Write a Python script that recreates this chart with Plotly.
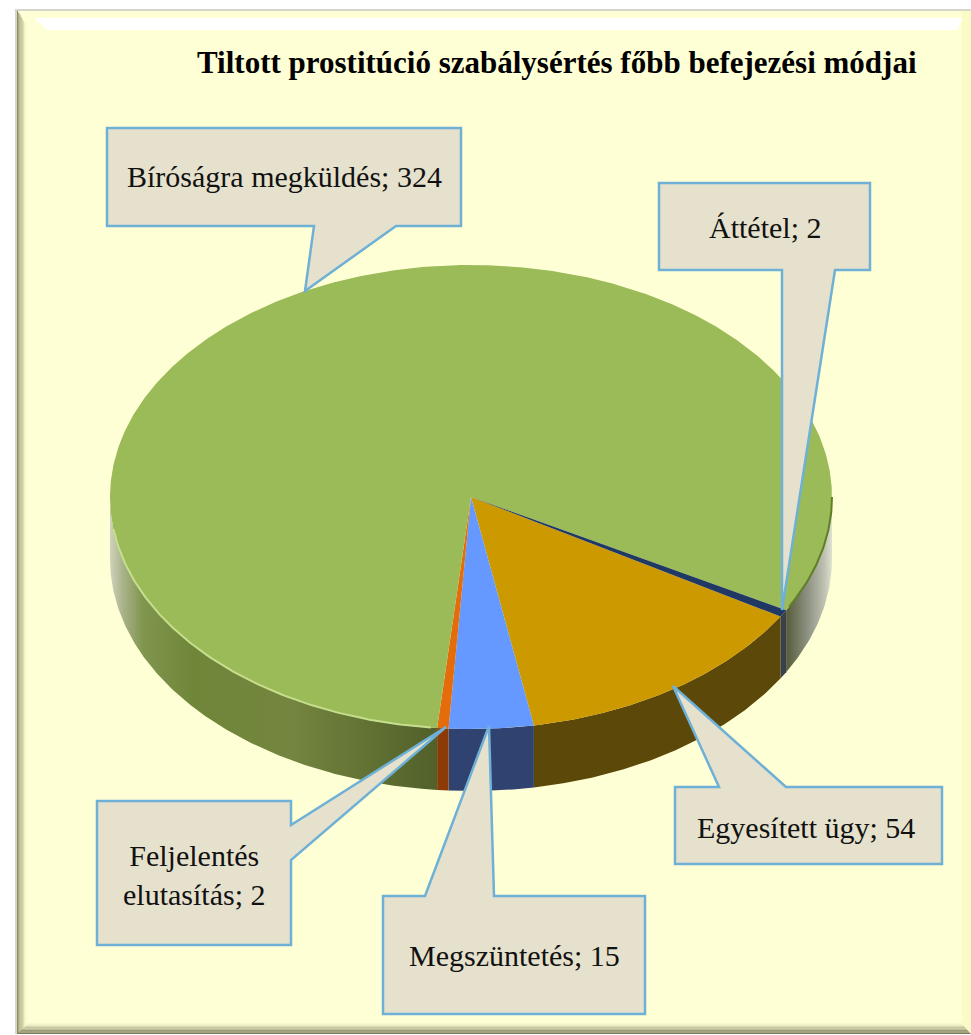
import numpy as np
import plotly.graph_objects as go

# ---- data ----
TITLE = "Tiltott prostitúció szabálysértés főbb befejezési módjai"
categories = ["Egyesített ügy", "Megszüntetés", "Feljelentés elutasítás", "Bíróságra megküldés", "Áttétel"]
values = [54, 15, 2, 324, 2]
top_colors = ["#CC9900", "#6699FF", "#E46C0A", "#9BBB59", "#1F3864"]
wall_colors = ["#5C4808", "#2F4270", "#8C3A06", None, "#3A4048"]

# ---- geometry of the tilted pie ----
W, H = 971, 1035
CX, CY, RX, RY, DEPTH = 471, 497, 361, 232, 62
START_DEG = 31.0

GREEN_WALL_LEFT = [[0, "#D0D2BC"], [0.04, "#A8B288"], [0.1, "#80954E"], [0.25, "#6F8639"], [0.55, "#74853F"], [0.8, "#5F7032"], [1, "#515F2A"]]
GREEN_WALL_RIGHT = [[0, "#474D2E"], [0.12, "#5A6040"], [0.5, "#8C9080"], [0.85, "#BFC2B2"], [1, "#E0E2D0"]]


def rim(a0, a1, dy=0.0):
    t = np.radians(np.linspace(a0, a1, max(3, int(abs(a1 - a0) * 2) + 2)))
    return CX + RX * np.cos(t), CY + dy + RY * np.sin(t)


def wall_trace(a0, a1, color=None, grad=None):
    x0, y0 = rim(a0, a1)
    x1, y1 = rim(a1, a0, DEPTH)
    kw = dict(fillcolor=color) if color else dict(fillgradient=grad)
    return go.Scatter(x=np.r_[x0, x1, x0[0]], y=np.r_[y0, y1, y0[0]], mode="lines", line=dict(width=0),
                      fill="toself", hoverinfo="skip", showlegend=False, **kw)


sweeps = np.array(values) / sum(values) * 360.0
ends = START_DEG + np.cumsum(sweeps)
starts = ends - sweeps

fig = go.Figure()

# side walls: only the front half of the disc (0..180 deg, and 360..540) is visible
for a0, a1, wc in zip(starts, ends, wall_colors):
    for lo, hi in ((0, 180), (360, 540)):
        s, e = max(a0, lo), min(a1, hi)
        if e <= s:
            continue
        if wc:
            fig.add_trace(wall_trace(s, e, color=wc))
        elif lo == 0:
            fig.add_trace(wall_trace(s, e, grad=dict(type="horizontal", colorscale=GREEN_WALL_LEFT, start=CX - RX, stop=CX - 30)))
        else:
            fig.add_trace(wall_trace(s, e, grad=dict(type="horizontal", colorscale=GREEN_WALL_RIGHT, start=CX + RX - 50, stop=CX + RX)))

# top face
for a0, a1, c, name, v in zip(starts, ends, top_colors, categories, values):
    x, y = rim(a0, a1)
    fig.add_trace(go.Scatter(x=np.r_[CX, x, CX], y=np.r_[CY, y, CY], mode="lines", line=dict(width=0, color=c),
                             fill="toself", fillcolor=c, name=f"{name}; {v}", hoverinfo="name", showlegend=False))

# rim highlights of the large slice
ib = categories.index("Bíróságra megküldés")
x, y = rim(starts[ib] + 1, 172)
fig.add_trace(go.Scatter(x=x, y=y, mode="lines", line=dict(width=2, color="#C6DE8E"), hoverinfo="skip", showlegend=False))
x, y = rim(360, ends[ib] - 1)
fig.add_trace(go.Scatter(x=x, y=y, mode="lines", line=dict(width=2, color="#5F7F26"), hoverinfo="skip", showlegend=False))

# ---- frame ----
shapes = []
CREAM = "#FFFFD5"


def poly(pts, fill, line=None, lw=0, layer="below"):
    d = "M" + " L".join(f"{a},{b}" for a, b in pts) + " Z"
    return dict(type="path", path=d, fillcolor=fill, line=dict(color=line or fill, width=lw), layer=layer)


L, T, R, B = 15, 9, 971, 1034
shapes.append(poly([(L, T), (R, T), (R, B), (L, B)], "#D6D6CC"))
shapes.append(poly([(L + 2, T + 2), (R, T + 2), (R, B), (L + 2, B)], CREAM))
left_cols = ["#8E8E62", "#9C9C70", "#ACAC80", "#BEBE92", "#D0D0A4", "#E0E0B4", "#EEEEC2", "#F8F8CC", "#FCFCD1"]
for i, c in enumerate(left_cols):
    shapes.append(poly([(L + 2 + i * 1.2, T + 2 + i * 2), (L + 3.2 + i * 1.2, T + 2 + i * 2), (L + 3.2 + i * 1.2, B - i * 1.2), (L + 2 + i * 1.2, B - i * 1.2)], c))
bot_cols = ["#7A7A5C", "#8A8A68", "#9C9C78", "#B0B08A", "#C6C69E", "#DADAB2", "#ECECC4", "#F8F8CF"]
for i, c in enumerate(bot_cols):
    shapes.append(poly([(L + 2 + i * 1.5, B - i * 1.4), (R, B - i * 1.4), (R, B - (i + 1) * 1.4), (L + 2 + (i + 1) * 1.5, B - (i + 1) * 1.4)], c))
shapes.append(poly([(L + 19, T + 9), (R - 8, T + 9), (R - 14, T + 21), (L + 32, T + 21)], "#FFFFFF"))
shapes.append(poly([(R - 9, T + 2), (R, T + 2), (R, B), (R - 9, B - 10)], "#FBFBC8"))

# ---- callouts ----
FILL, EDGE = "#E5E1CC", "#6FB0D6"
callouts = [
    [(107, 128), (461, 128), (461, 226), (396, 226), (305, 291), (314, 226), (107, 226)],
    [(659, 183), (870, 183), (870, 270), (835, 270), (782, 610), (782, 270), (659, 270)],
    [(675, 787), (719, 787), (673, 686), (786, 787), (942, 787), (942, 864), (675, 864)],
    [(97, 801), (291, 801), (291, 825), (446, 727), (291, 860), (291, 945), (97, 945)],
    [(383, 896), (425, 896), (489, 726), (494, 896), (645, 896), (645, 1014), (383, 1014)],
]
for c in callouts:
    shapes.append(poly(c, FILL, EDGE, 2.5, layer="above"))

labels = [
    ("Bíróságra megküldés; 324", 284, 176),
    ("Áttétel; 2", 765, 227),
    ("Egyesített ügy; 54", 806, 827),
    ("Feljelentés<br>elutasítás; 2", 194, 875),
    ("Megszüntetés; 15", 514, 955),
]
FONT = "Liberation Serif"
ann = [dict(x=x, y=y, text=t, showarrow=False, xref="x", yref="y", xanchor="center", yanchor="middle",
            font=dict(family=FONT, size=30, color="#111111")) for t, x, y in labels]
ann.append(dict(x=557, y=62, text=f"<b>{TITLE}</b>", showarrow=False, xref="x", yref="y", xanchor="center", yanchor="middle",
                font=dict(family=FONT, size=31, color="#000000")))

fig.update_layout(
    width=W, height=H, margin=dict(l=0, r=0, t=0, b=0), paper_bgcolor="#FFFFFF", plot_bgcolor="rgba(0,0,0,0)",
    showlegend=False, shapes=shapes, annotations=ann,
    xaxis=dict(range=[0, W], visible=False, fixedrange=True),
    yaxis=dict(range=[H, 0], visible=False, fixedrange=True),
)
fig.write_html("out.html", config=dict(displayModeBar=False), post_script="document.body.style.margin='0';document.documentElement.style.overflow='hidden';")
